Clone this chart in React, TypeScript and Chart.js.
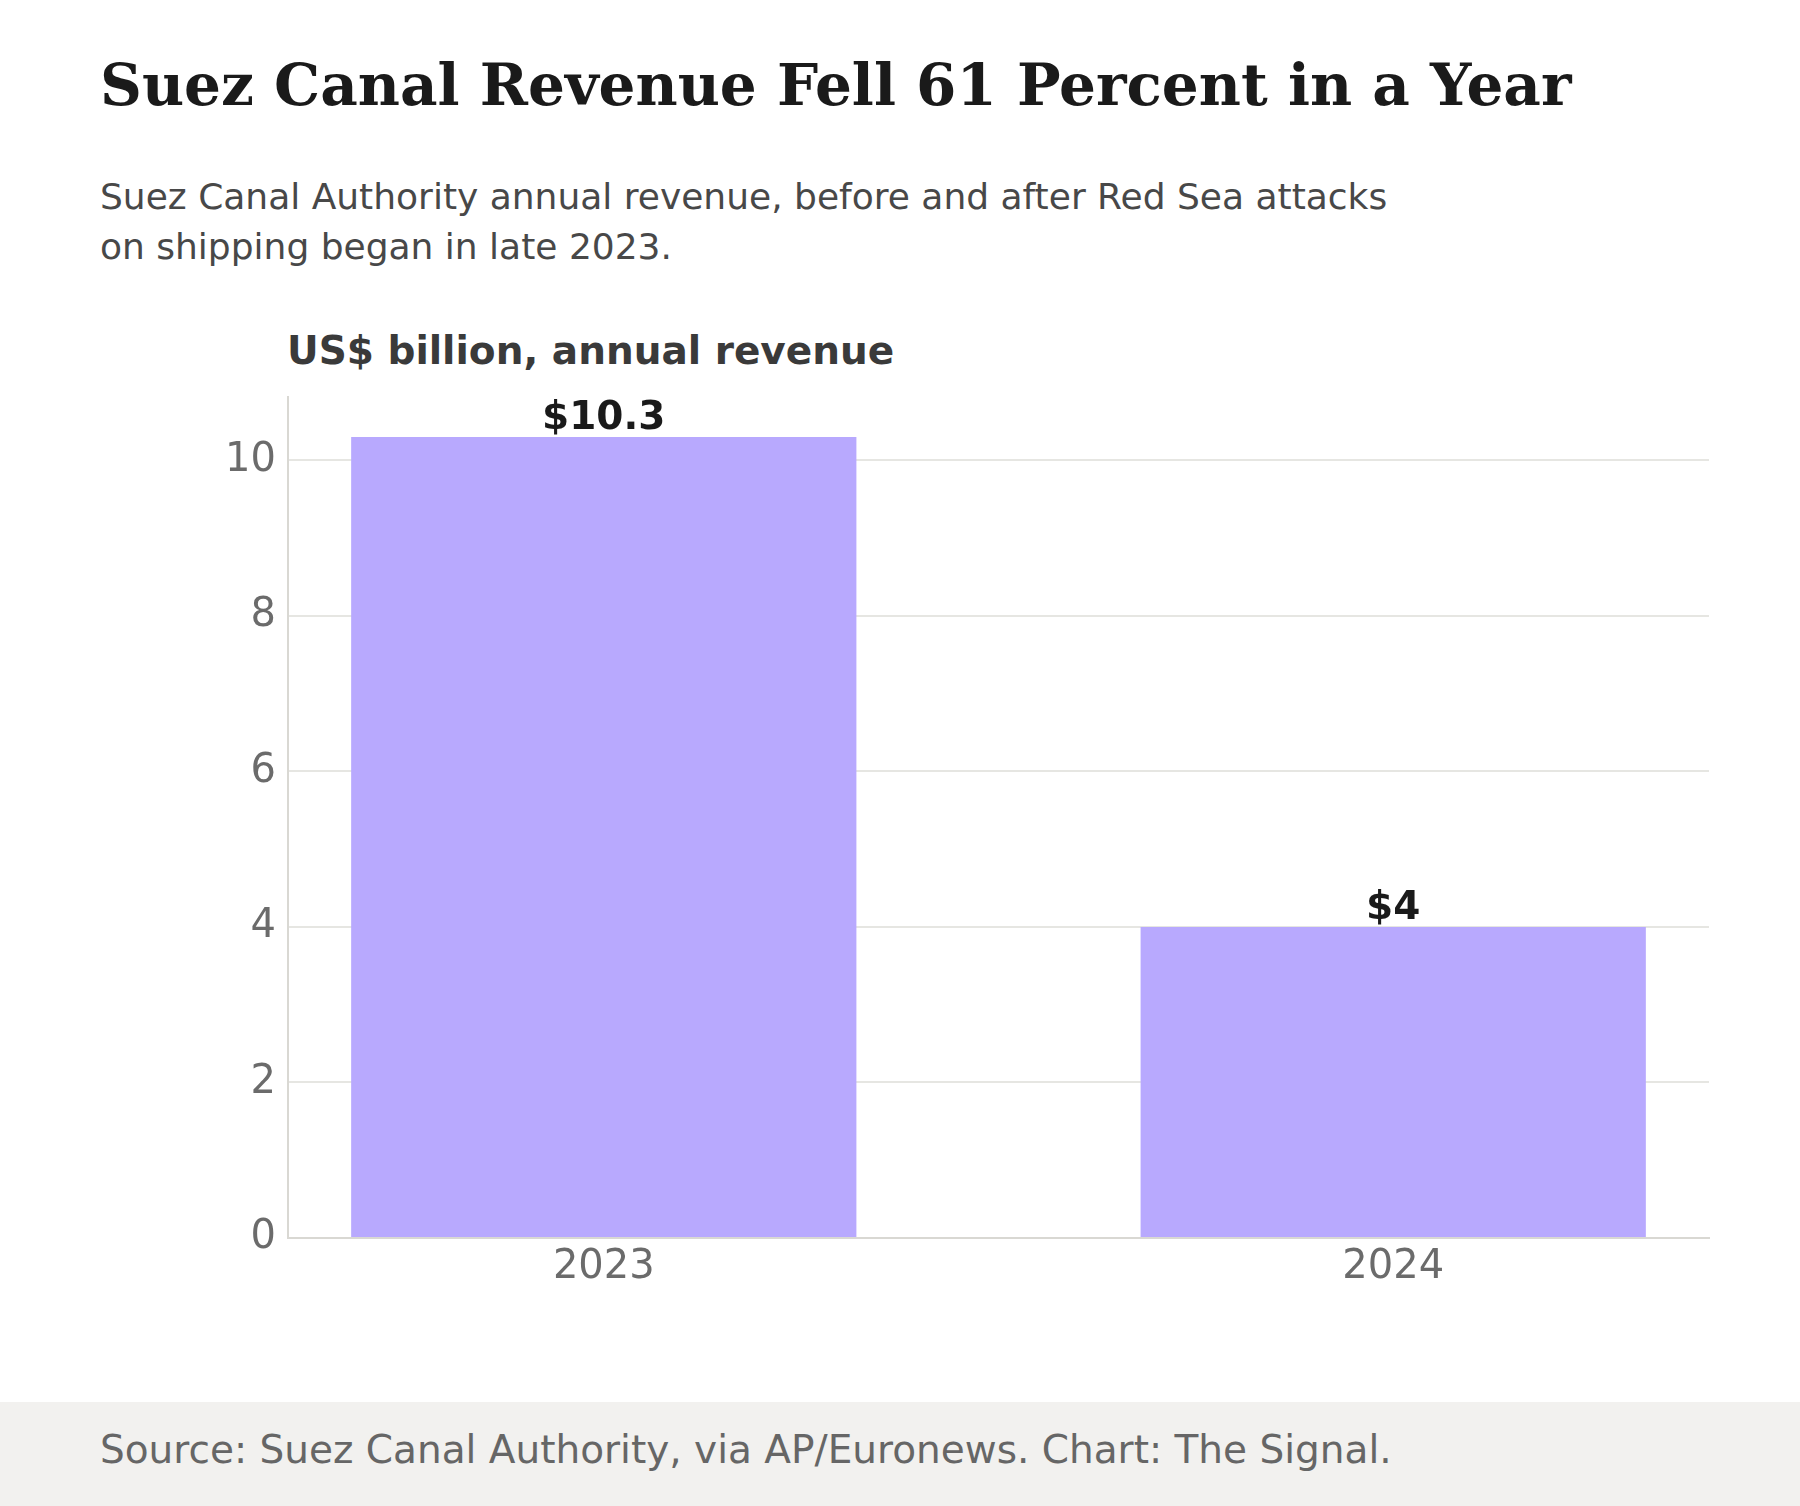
import React, { useEffect, useRef } from 'react';
import { Chart, registerables } from 'chart.js';

Chart.register(...registerables);

const years = ['2023', '2024'];
const revenue = [10.3, 4];
const yTicks = [0, 2, 4, 6, 8, 10];

const SANS = '"DejaVu Sans", sans-serif';
const SERIF = '"DejaVu Serif", serif';

// draws "$10.3" / "$4" above each bar
const valueLabels = {
  id: 'valueLabels',
  afterDatasetsDraw(chart: any) {
    const { ctx } = chart;
    const meta = chart.getDatasetMeta(0);
    ctx.save();
    ctx.font = `bold 39px ${SANS}`;
    ctx.fillStyle = '#1a1a1a';
    ctx.textAlign = 'center';
    ctx.textBaseline = 'alphabetic';
    meta.data.forEach((bar: any, i: number) => {
      ctx.fillText('$' + revenue[i], bar.x, bar.y - 8);
    });
    ctx.restore();
  },
};

const RevenueChart = () => {
  const canvasRef = useRef<HTMLCanvasElement | null>(null);
  const chartRef = useRef<Chart | null>(null);

  useEffect(() => {
    if (!canvasRef.current) return;
    if (chartRef.current) chartRef.current.destroy();

    chartRef.current = new Chart(canvasRef.current, {
      type: 'bar',
      data: {
        datasets: [
          {
            label: 'Revenue',
            data: revenue.map((v, i) => ({ x: i, y: v })),
            backgroundColor: '#b8a9fe',
            barPercentage: 0.8,
            categoryPercentage: 0.8,
          },
        ],
      },
      options: {
        animation: false,
        responsive: true,
        maintainAspectRatio: false,
        layout: { padding: { top: 17, right: 91, left: 0, bottom: 0 } },
        plugins: {
          legend: { display: false },
          tooltip: { enabled: false },
        },
        scales: {
          x: {
            type: 'linear',
            min: -0.4,
            max: 1.4,
            offset: false,
            grid: { display: false, offset: false },
            border: { display: true, color: '#d9d8d3', width: 2 },
            afterBuildTicks: (scale: any) => {
              scale.ticks = years.map((_, i) => ({ value: i }));
            },
            afterFit: (scale: any) => {
              scale.height = 102;
              scale.paddingLeft = 0;
              scale.paddingRight = 0;
            },
            ticks: {
              autoSkip: false,
              maxRotation: 0,
              padding: 2,
              color: '#6b6b6b',
              font: { family: SANS, size: 40, lineHeight: 1 },
              callback: (value: any) => years[value] ?? '',
            },
          },
          y: {
            min: 0,
            max: Math.max(...revenue) * 1.05,
            grid: { color: '#e6e6e2', lineWidth: 2, drawTicks: false },
            border: { display: true, color: '#d9d8d3', width: 2 },
            afterBuildTicks: (scale: any) => {
              scale.ticks = yTicks.map((v) => ({ value: v }));
            },
            afterFit: (scale: any) => {
              scale.width = 288;
              scale.paddingTop = 0;
              scale.paddingBottom = 0;
            },
            ticks: {
              padding: 12,
              color: '#6b6b6b',
              font: { family: SANS, size: 40, lineHeight: 1 },
            },
          },
        },
      },
      plugins: [valueLabels],
    } as any);

    return () => {
      if (chartRef.current) {
        chartRef.current.destroy();
        chartRef.current = null;
      }
    };
  }, []);

  return (
    <div style={{ position: 'absolute', left: 0, top: 380, width: 1800, height: 960 }}>
      <canvas ref={canvasRef} />
    </div>
  );
};

export default function App() {
  return (
    <div
      style={{
        position: 'absolute',
        left: 0,
        top: 0,
        width: 1800,
        height: 1506,
        background: '#ffffff',
        overflow: 'hidden',
      }}
    >
      <div
        style={{
          position: 'absolute',
          left: 100,
          top: 56,
          fontFamily: SERIF,
          fontWeight: 'bold',
          fontSize: 58,
          lineHeight: '58px',
          color: '#1a1a1a',
          whiteSpace: 'nowrap',
        }}
      >
        Suez Canal Revenue Fell 61 Percent in a Year
      </div>
      <div
        style={{
          position: 'absolute',
          left: 100,
          top: 172,
          fontFamily: SANS,
          fontSize: 36,
          lineHeight: '50.4px',
          color: '#484848',
          whiteSpace: 'nowrap',
        }}
      >
        Suez Canal Authority annual revenue, before and after Red Sea attacks
        <br />
        on shipping began in late 2023.
      </div>
      <div
        style={{
          position: 'absolute',
          left: 287,
          top: 331,
          fontFamily: SANS,
          fontWeight: 'bold',
          fontSize: 39,
          lineHeight: '39px',
          color: '#3a3a3a',
          whiteSpace: 'nowrap',
        }}
      >
        US$ billion, annual revenue
      </div>
      <RevenueChart />
      <div
        style={{
          position: 'absolute',
          left: 0,
          top: 1402,
          width: 1800,
          height: 104,
          background: '#f2f1ef',
          fontFamily: SANS,
          fontSize: 39,
          lineHeight: '95px',
          color: '#666666',
          paddingLeft: 100,
          boxSizing: 'border-box',
          whiteSpace: 'nowrap',
        }}
      >
        Source: Suez Canal Authority, via AP/Euronews. Chart: The Signal.
      </div>
    </div>
  );
}
